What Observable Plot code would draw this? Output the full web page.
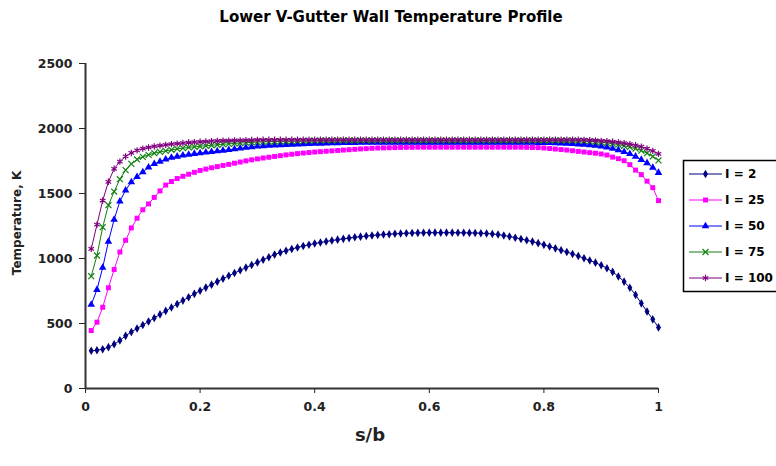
<!DOCTYPE html>
<html><head><meta charset="utf-8">
<script src="https://cdn.jsdelivr.net/npm/d3@7"></script>
<script src="https://cdn.jsdelivr.net/npm/@observablehq/plot@0.6"></script>
<style>
body{margin:0;background:#fff;}
#wrap{position:relative;width:776px;height:466px;overflow:hidden;}
#title{position:absolute;left:0;top:8px;width:782px;text-align:center;font:bold 15px "DejaVu Sans",sans-serif;color:#000;}
#legend{position:absolute;left:0;top:0;pointer-events:none;}
</style></head><body><div id="wrap"><div id="title">Lower V-Gutter Wall Temperature Profile</div></div>
<script>
const titleText = "Lower V-Gutter Wall Temperature Profile";
const xLabel = "s/b";
const yLabel = "Temperature, K";
const seriesNames = ["I = 2", "I = 25", "I = 50", "I = 75", "I = 100"];
const seriesColors = ["#000080", "#ff00ff", "#0000ff", "#108010", "#800080"];
const xTicks = [0, 0.2, 0.4, 0.6, 0.8, 1];
const xTickLabels = ["0", "0.2", "0.4", "0.6", "0.8", "1"];
const yTicks = [0, 500, 1000, 1500, 2000, 2500];

const sValues = [0.01,0.02,0.03,0.04,0.05,0.06,0.07,0.08,0.09,0.10,
0.11,0.12,0.13,0.14,0.15,0.16,0.17,0.18,0.19,0.20,
0.21,0.22,0.23,0.24,0.25,0.26,0.27,0.28,0.29,0.30,
0.31,0.32,0.33,0.34,0.35,0.36,0.37,0.38,0.39,0.40,
0.41,0.42,0.43,0.44,0.45,0.46,0.47,0.48,0.49,0.50,
0.51,0.52,0.53,0.54,0.55,0.56,0.57,0.58,0.59,0.60,
0.61,0.62,0.63,0.64,0.65,0.66,0.67,0.68,0.69,0.70,
0.71,0.72,0.73,0.74,0.75,0.76,0.77,0.78,0.79,0.80,
0.81,0.82,0.83,0.84,0.85,0.86,0.87,0.88,0.89,0.90,
0.91,0.92,0.93,0.94,0.95,0.96,0.97,0.98,0.99,1.00];

const tempI2 = [290,294,302,318,340,370,405,435,462,488,
515,542,570,597,623,650,676,702,728,752,
776,799,822,845,867,888,909,930,950,970,
990,1010,1030,1046,1060,1073,1085,1096,1106,1115,
1123,1131,1138,1145,1151,1157,1163,1168,1173,1177,
1181,1184,1187,1190,1192,1194,1196,1197,1198,1199,
1199,1199,1199,1199,1198,1198,1197,1196,1194,1192,
1189,1184,1177,1169,1160,1150,1140,1130,1118,1105,
1092,1078,1064,1050,1035,1019,1002,985,968,948,
925,897,862,822,775,720,655,592,532,470];

const tempI25 = [446,510,625,775,915,1050,1140,1235,1310,1375,
1420,1470,1520,1565,1592,1615,1632,1648,1663,1677,
1688,1698,1707,1716,1724,1733,1742,1751,1759,1766,
1773,1779,1785,1791,1797,1802,1807,1811,1815,1819,
1822,1825,1828,1831,1834,1837,1840,1843,1845,1848,
1850,1851,1852,1853,1854,1855,1855,1856,1856,1856,
1856,1856,1856,1856,1856,1856,1856,1856,1856,1856,
1856,1856,1856,1856,1856,1856,1855,1854,1853,1850,
1846,1842,1838,1834,1829,1824,1819,1814,1810,1804,
1796,1780,1768,1752,1722,1680,1645,1595,1545,1445];

const tempI50 = [645,760,930,1130,1300,1440,1525,1588,1628,1665,
1702,1728,1746,1762,1776,1785,1793,1800,1806,1811,
1816,1821,1826,1831,1836,1842,1848,1853,1858,1862,
1865,1868,1870,1872,1874,1876,1878,1880,1882,1884,
1885,1886,1887,1888,1889,1890,1890,1891,1891,1891,
1892,1892,1892,1892,1892,1892,1892,1892,1892,1892,
1892,1892,1892,1892,1892,1892,1892,1892,1892,1892,
1892,1892,1892,1892,1892,1892,1891,1891,1890,1890,
1889,1888,1886,1884,1882,1879,1876,1872,1868,1862,
1855,1846,1835,1820,1805,1785,1760,1735,1700,1660];

const tempI75 = [864,1023,1241,1410,1515,1610,1680,1728,1762,1782,
1797,1810,1820,1828,1836,1843,1849,1854,1859,1863,
1867,1871,1875,1879,1882,1885,1888,1891,1893,1895,
1897,1899,1900,1901,1902,1903,1904,1905,1906,1907,
1908,1908,1908,1908,1908,1908,1908,1908,1908,1908,
1908,1908,1908,1908,1908,1908,1908,1908,1908,1908,
1908,1908,1908,1908,1908,1908,1908,1908,1908,1908,
1908,1908,1908,1908,1908,1908,1908,1908,1908,1908,
1908,1908,1908,1908,1908,1906,1904,1901,1898,1894,
1889,1883,1876,1867,1857,1845,1830,1810,1785,1755];

const tempI100 = [1074,1260,1446,1590,1690,1745,1785,1812,1832,1845,
1854,1862,1868,1874,1880,1884,1888,1892,1895,1898,
1900,1902,1904,1906,1907,1908,1909,1910,1911,1912,
1913,1913,1913,1913,1913,1913,1913,1913,1913,1913,
1913,1913,1913,1913,1913,1913,1913,1913,1913,1913,
1913,1913,1913,1913,1913,1913,1913,1913,1913,1913,
1913,1913,1913,1913,1913,1913,1913,1913,1913,1913,
1913,1913,1913,1913,1913,1913,1913,1913,1913,1913,
1913,1913,1913,1913,1913,1913,1912,1910,1908,1905,
1902,1898,1893,1887,1880,1871,1860,1845,1828,1805];

const seriesTemps = [tempI2, tempI25, tempI50, tempI75, tempI100];
const symbolSpecs = [
  {plot: "diamond", d3s: d3.symbolDiamond, filled: true, r: 2.6},
  {plot: "square", d3s: d3.symbolSquare, filled: true, r: 2.8},
  {plot: "triangle", d3s: d3.symbolTriangle, filled: true, r: 2.8},
  {plot: "times", d3s: d3.symbolTimes, filled: false, r: 2.8},
  {plot: "asterisk", d3s: d3.symbolAsterisk, filled: false, r: 3.0}
];

const seriesData = seriesTemps.map((temps, k) =>
  sValues.map((s, i) => ({s, t: temps[i], series: seriesNames[k]})));

const marks = [
  Plot.axisY({ticks: yTicks, tickSize: 6, tickPadding: 7, label: null, fontSize: 12.5, tickFormat: d => String(d)}),
  Plot.axisX({ticks: xTicks, tickSize: 5, tickPadding: 9, label: null, fontSize: 12.5, tickFormat: (d) => xTickLabels[xTicks.indexOf(d)]}),
  Plot.ruleX([0], {stroke: "#333", strokeWidth: 2}),
  Plot.ruleY([0], {stroke: "#333", strokeWidth: 2}),
  Plot.text([yLabel], {frameAnchor: "left", dx: -68, dy: -3, rotate: -90, textAnchor: "middle", text: d => d, fontSize: 12, fontWeight: "bold"}),
  Plot.text([xLabel], {frameAnchor: "bottom", dy: 52, textAnchor: "middle", dx: -2, text: d => d, fontSize: 18, fontWeight: "bold"})
];
seriesData.forEach((data, k) => {
  marks.push(Plot.line(data, {x: "s", y: "t", stroke: seriesColors[k], strokeWidth: 1}));
  const sp = symbolSpecs[k];
  marks.push(Plot.dot(data, {x: "s", y: "t", symbol: sp.plot, r: sp.r,
    fill: sp.filled ? seriesColors[k] : "none",
    stroke: sp.filled ? "none" : seriesColors[k], strokeWidth: 1.2}));
});

const chart = Plot.plot({
  width: 776, height: 466,
  marginLeft: 85, marginRight: 118, marginTop: 63, marginBottom: 78,
  style: {fontFamily: "'DejaVu Sans', sans-serif", fontWeight: "bold", fontSize: "12px", color: "#222", background: "transparent"},
  x: {domain: [0, 1]},
  y: {domain: [0, 2500]},
  marks
});
const wrap = document.getElementById("wrap");
wrap.appendChild(chart);
document.getElementById("title").textContent = titleText;

// legend
const lg = d3.select(wrap).append("svg").attr("id", "legend").attr("width", 776).attr("height", 466);
lg.append("rect").attr("x", 683.5).attr("y", 160.5).attr("width", 100).attr("height", 131)
  .attr("fill", "#fff").attr("stroke", "#000").attr("stroke-width", 1.5);
seriesNames.forEach((name, k) => {
  const y = 174 + k * 26;
  lg.append("line").attr("x1", 689).attr("x2", 722).attr("y1", y).attr("y2", y)
    .attr("stroke", seriesColors[k]).attr("stroke-width", 1.2);
  const sp = symbolSpecs[k];
  lg.append("path").attr("d", d3.symbol(sp.d3s, Math.PI * sp.r * sp.r)())
    .attr("transform", `translate(705.5,${y})`)
    .attr("fill", sp.filled ? seriesColors[k] : "none")
    .attr("stroke", sp.filled ? "none" : seriesColors[k]).attr("stroke-width", 1.2);
  lg.append("text").attr("x", 725).attr("y", y).attr("dy", "0.35em")
    .attr("font-family", "'DejaVu Sans', sans-serif").attr("font-weight", "bold").attr("font-size", 12)
    .attr("fill", "#000").text(name);
});
</script></body></html>
